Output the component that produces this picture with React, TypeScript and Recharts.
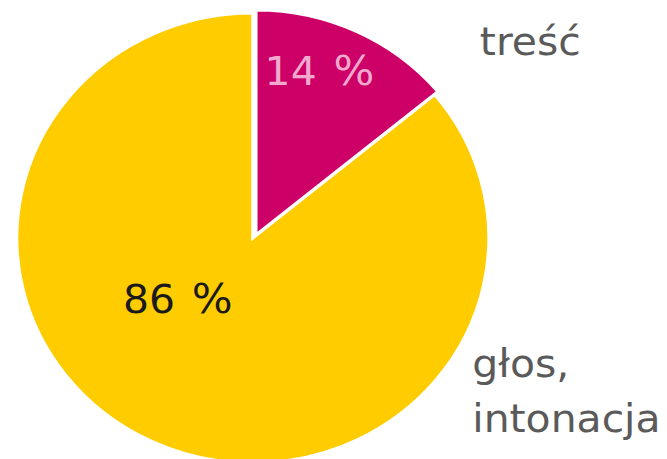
import React from 'react';
import { PieChart, Pie, Cell } from 'recharts';

const categories = ['treść', 'głos, intonacja'];
const values = [14, 86];
const percentNumbers = ['14', '86'];
const nameLines = [['treść'], ['głos,', 'intonacja']];
const colors = ['#CC0066', '#FFCC00'];

const data = categories.map((name, i) => ({ name, value: values[i] }));

const W = 636;
const H = 459;
const CX = 241;
const CY = 238;
const R = 225;
const FONT = '"DejaVu Sans", Verdana, sans-serif';

// offsets of labels relative to pie centre, in units of the outer radius
const pctPos = [
  { dx: 0.05, dy: -0.68 },
  { dx: -0.55, dy: 0.335 },
];
const namePos = [
  { dx: 0.962, dy: -0.813, lh: 0 },
  { dx: 0.93, dy: 0.618, lh: 0.245 },
];

const renderLabel = (props: any) => {
  const { cx, cy, outerRadius, index } = props;
  const p = pctPos[index];
  const n = namePos[index];
  return (
    <g key={`lbl-${index}`}>
      <text
        x={cx + p.dx * outerRadius}
        y={cy + p.dy * outerRadius}
        fill={index === 0 ? '#F2A9CF' : '#1a1a1a'}
        fontFamily={FONT}
        fontSize={39}
        textAnchor="start"
      >
        {percentNumbers[index]}
        <tspan dx={16} fontSize={41}>%</tspan>
      </text>
      {nameLines[index].map((line, j) => (
        <text
          key={j}
          x={cx + n.dx * outerRadius}
          y={cy + (n.dy + j * n.lh) * outerRadius}
          fill="#5a5a5a"
          fontFamily={FONT}
          fontSize={39}
          textAnchor="start"
        >
          {line}
        </text>
      ))}
    </g>
  );
};

export default function App() {
  return (
    <div
      style={{
        position: 'absolute',
        left: 0,
        top: 0,
        width: W,
        height: H,
        transform: 'scaleX(1.049)',
        transformOrigin: '0 0',
        background: '#ffffff',
      }}
    >
      <PieChart width={W} height={H} margin={{ top: 0, right: 0, bottom: 0, left: 0 }}>
        <Pie
          data={data}
          dataKey="value"
          nameKey="name"
          cx={CX}
          cy={CY}
          outerRadius={R}
          startAngle={90}
          endAngle={-270}
          stroke="#ffffff"
          strokeWidth={3}
          isAnimationActive={false}
          labelLine={false}
          label={renderLabel}
        >
          {data.map((d, i) => (
            <Cell
              key={d.name}
              fill={i === 1 ? colors[1] : 'none'}
              stroke={i === 1 ? '#ffffff' : 'none'}
            />
          ))}
        </Pie>
        <Pie
          data={data}
          dataKey="value"
          nameKey="name"
          cx={CX + 3}
          cy={CY - 3}
          outerRadius={R}
          startAngle={90}
          endAngle={-270}
          stroke="#ffffff"
          strokeWidth={3}
          isAnimationActive={false}
          labelLine={false}
        >
          {data.map((d, i) => (
            <Cell
              key={d.name}
              fill={i === 0 ? colors[0] : 'none'}
              stroke={i === 0 ? '#ffffff' : 'none'}
            />
          ))}
        </Pie>
      </PieChart>
    </div>
  );
}
